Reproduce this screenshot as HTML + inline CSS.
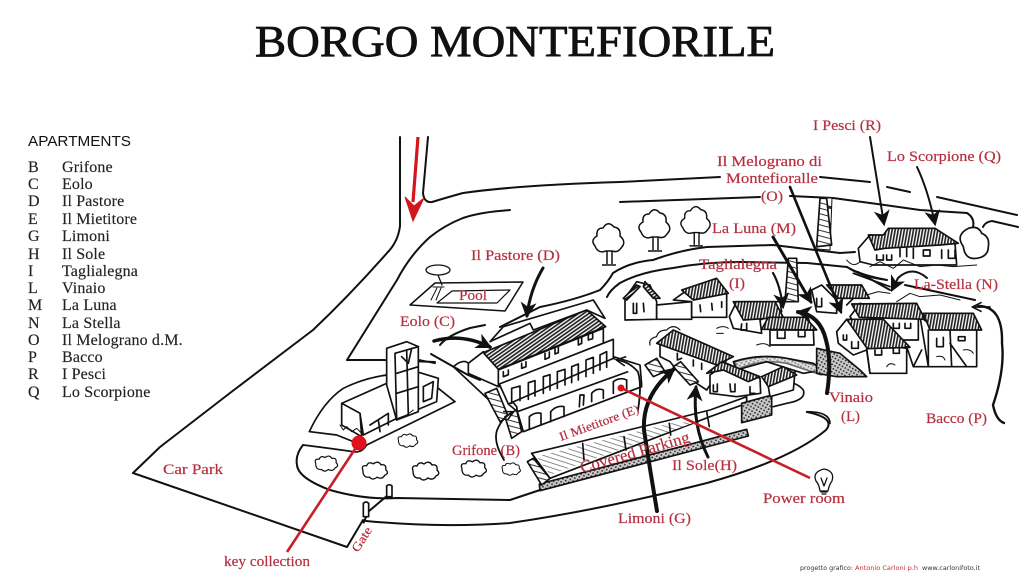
<!DOCTYPE html>
<html><head><meta charset="utf-8"><style>
html,body{margin:0;padding:0;background:#fff}
svg{display:block}
.r{font-family:"Liberation Serif",serif;font-size:15px;fill:#b5303f;stroke:#b5303f;stroke-width:.2}
.k{font-family:"Liberation Serif",serif;font-size:16px;letter-spacing:.15px;fill:#222;stroke:#222;stroke-width:.15}
.l{fill:none;stroke:#111;stroke-width:2;stroke-linecap:round;stroke-linejoin:round}
.z{fill:none;stroke:#111;stroke-width:5;stroke-linecap:round;stroke-linejoin:round}
.w{fill:#fff;stroke:#111;stroke-width:5;stroke-linejoin:round}
.h{stroke:#111;stroke-width:5;stroke-linejoin:round}
.t{fill:none;stroke:#111;stroke-width:3;stroke-linecap:round;stroke-linejoin:round}
.a{fill:none;stroke:#111;stroke-width:2.5;stroke-linecap:round}
.b{fill:none;stroke:#111;stroke-width:4;stroke-linecap:round}
</style></head><body>
<svg xmlns="http://www.w3.org/2000/svg" width="1024" height="576" viewBox="0 0 1024 576">
<defs>
<pattern id="p1" width="9" height="9" patternUnits="userSpaceOnUse" patternTransform="rotate(55)"><rect width="9" height="9" fill="#fff"/><rect width="5" height="9" fill="#222"/></pattern>
<pattern id="p2" width="9" height="9" patternUnits="userSpaceOnUse" patternTransform="rotate(10)"><rect width="9" height="9" fill="#fff"/><rect width="5" height="9" fill="#222"/></pattern>
<pattern id="p3" width="14" height="14" patternUnits="userSpaceOnUse" patternTransform="rotate(18)"><rect width="14" height="14" fill="#fff"/><rect width="14" height="2.5" fill="#777"/></pattern>
<pattern id="p4" width="16" height="16" patternUnits="userSpaceOnUse" patternTransform="rotate(15)"><rect width="16" height="16" fill="#fff"/><rect width="16" height="3" fill="#333"/></pattern>
<pattern id="p5" width="10" height="10" patternUnits="userSpaceOnUse" patternTransform="rotate(30)"><rect width="10" height="10" fill="#ccc"/><rect width="5" height="5" fill="#333"/></pattern>
<marker id="m" viewBox="0 0 14 14" refX="12" refY="7" markerWidth="16" markerHeight="16" markerUnits="userSpaceOnUse" orient="auto"><path d="M0 0L14 7L0 14L4 7Z" fill="#111"/></marker>
<marker id="s" viewBox="0 0 14 14" refX="12" refY="7" markerWidth="11" markerHeight="11" markerUnits="userSpaceOnUse" orient="auto"><path d="M1 1L13 7L1 13" fill="none" stroke="#111" stroke-width="2"/></marker>
<path id="bu" d="M2 10Q0 4 6 5Q8 0 13 3Q18-1 21 4Q27 3 26 9Q30 13 25 15Q22 20 17 17Q12 21 9 17Q2 18 2 10Z" fill="#fff" stroke="#111" stroke-width="1.4"/>
<g id="tr"><path d="M15 28L15 42M20 28L20 42M10 43L24 43" stroke="#111" stroke-width="1.5" fill="none"/><path d="M14 29Q6 32 3 24Q-2 18 5 14Q4 6 11 6Q16-2 22 5Q29 6 28 14Q35 20 29 26Q26 31 20 29Z" fill="#fff" stroke="#111" stroke-width="1.5"/></g>
</defs>

<rect width="1024" height="576" fill="#fff"/>
<text x="255" y="56" font-family="'Liberation Serif',serif" font-size="44" fill="#111" stroke="#111" stroke-width=".8" textLength="520" lengthAdjust="spacingAndGlyphs">BORGO MONTEFIORILE</text>

<text x="28" y="146" font-family="'Liberation Sans',sans-serif" font-size="14.5" fill="#111" textLength="103" lengthAdjust="spacingAndGlyphs">APARTMENTS</text>
<g class="k">
<text x="28" y="172">B</text><text x="62" y="172">Grifone</text>
<text x="28" y="189">C</text><text x="62" y="189">Eolo</text>
<text x="28" y="206">D</text><text x="62" y="206">Il Pastore</text>
<text x="28" y="224">E</text><text x="62" y="224">Il Mietitore</text>
<text x="28" y="241">G</text><text x="62" y="241">Limoni</text>
<text x="28" y="259">H</text><text x="62" y="259">Il Sole</text>
<text x="28" y="276">I</text><text x="62" y="276">Taglialegna</text>
<text x="28" y="293">L</text><text x="62" y="293">Vinaio</text>
<text x="28" y="310">M</text><text x="62" y="310">La Luna</text>
<text x="28" y="328">N</text><text x="62" y="328">La Stella</text>
<text x="28" y="345">O</text><text x="62" y="345">Il Melograno d.M.</text>
<text x="28" y="362">P</text><text x="62" y="362">Bacco</text>
<text x="28" y="379">R</text><text x="62" y="379">I Pesci</text>
<text x="28" y="397">Q</text><text x="62" y="397">Lo Scorpione</text>
</g>

<!-- roads -->
<path class="l" d="M400 137L400 226Q398 242 387 253Q350 295 313 330L230 393L160 447L133 473L347 547L363 520"/>
<path class="l" d="M366 521Q440 528 510 523Q600 510 707 483Q790 460 826 430Q836 418 807 412"/>
<path class="l" d="M303 445Q295 455 297 465Q298 478 330 490Q365 500 397 498L510 500L540 490"/>
<path class="l" d="M428 137L423 193Q424 203 432 202Q445 198 463 193Q520 185 620 182L720 177M820 177L870 182M887 187L910 192M937 197L1017 215"/>
<path class="l" d="M620 202L760 197M790 196L833 198L870 203L920 210L967 213Q975 218 973 227M983 227Q985 222 992 221L1018 227"/>
<path class="l" d="M510 210Q480 212 463 218Q445 225 430 237Q410 255 397 280L347 360L383 360L435 362"/>
<path class="l" d="M500 327L540 307Q575 300 600 290Q608 282 613 273Q630 262 653 260Q680 250 707 247L773 245L840 253L855 252"/>
<path class="l" d="M607 297Q610 290 620 283Q640 272 673 268Q705 262 740 262L807 263L847 267Q860 275 887 280"/>
<path class="l" d="M858 272L890 290M905 285L975 300"/>
<path class="l" d="M440 345Q448 335 470 328L485 325"/>
<path class="l" d="M431 354L468 375L480 380"/>

<!-- pool -->
<path d="M435 283L523 282L505 311L410 305Z" class="l" style="stroke-width:1.5"/>
<path d="M452 291L510 290L497 303L437 303Z" class="l" style="stroke-width:1.2"/>
<path d="M437 288L431 300M441 288L436 300M433 287L444 287" class="l" style="stroke-width:1"/>
<ellipse cx="438" cy="270" rx="12" ry="5" class="l" style="stroke-width:1.3"/>
<path d="M438 275L442 285" class="l" style="stroke-width:1.3"/>

<!-- reception + tower -->
<g transform="translate(130,130) scale(.33333)">
<path class="z" d="M538 905Q580 815 640 775Q700 745 770 735M860 688L915 700"/>
<path class="z" d="M540 905L620 915L670 935M710 945L975 815L925 775"/>
<path class="z" d="M520 945Q600 955 670 965Q695 970 710 945"/>
<path class="w" d="M860 725L925 745L920 815L860 840Z"/>
<path class="z" d="M880 770L910 755L905 805L880 815Z"/>
<path class="w" d="M635 820L770 760L800 790L800 865L700 915L690 850L635 820Z"/>
<path class="w" d="M635 820L690 850L695 920L635 885Z"/>
<path class="z" d="M720 885L775 850L775 885M745 870L750 905"/>
<path class="w" d="M770 655L830 635L865 650L865 845L800 870L770 765Z"/>
<path class="z" d="M795 670L865 650M795 670L800 870M830 660L835 855M800 730L865 710M800 790L865 770M815 680L835 700L845 655"/>
<path class="z" style="stroke-width:3" d="M630 885L640 900L650 890L665 905L680 895L700 915L720 905L740 895L770 880L790 870L830 855L850 840"/>
<path d="M700 1180L715 1145L780 1090" stroke="#111" stroke-width="6" fill="none"/>
<path class="w" d="M700 1120Q708 1112 716 1120L716 1160L700 1160Z"/>
<path class="w" d="M770 1068Q778 1060 786 1068L786 1100L770 1100Z"/>
</g>
<use href="#bu" transform="translate(314,455) scale(.85)"/>
<use href="#bu" transform="translate(361,461) scale(.95)"/>
<use href="#bu" transform="translate(411,461)"/>
<use href="#bu" transform="translate(460,459) scale(.95)"/>
<use href="#bu" transform="translate(501,462) scale(.7)"/>
<use href="#bu" transform="translate(397,433) scale(.75)"/>
<use href="#tr" transform="translate(592,222) scale(1)"/>
<use href="#tr" transform="translate(638,208)"/>
<use href="#tr" transform="translate(680,205) scale(.95)"/>
<path d="M822 198L832 198L830 250L817 249Z" fill="url(#p4)" stroke="#111" stroke-width="1"/>

<!-- main block: zoom 1 coordinates -->
<g transform="translate(440,230) scale(.33333)">
<path class="z" d="M40 410Q70 385 85 400L180 470L230 530L240 600L200 560Z"/>
<path class="w" d="M190 290L460 210L495 265L440 240L280 300L270 280L150 335Z"/>
<path class="w" d="M85 400L130 365L180 415L175 470L85 430Z"/>
<path class="h" fill="url(#p1)" d="M130 368L440 240L497 290L175 418Z"/>
<path class="w" d="M175 420L490 295L490 340L175 465Z"/>
<path class="w" d="M178 462L520 328L520 385L205 522Z"/>
<path class="w" d="M232 545L600 412L605 470L250 605Z"/>
<path class="z" d="M205 522L232 545M520 385L600 412"/>
<path class="z" d="M215 520L215 475L240 468L240 512M265 508L265 458L285 452L285 498M310 490L310 440L330 434L330 480M352 475L352 425L375 418L375 465M395 458L395 410L415 402L415 450M438 440L438 390L460 382L460 430M480 420L480 375L500 365L500 412"/>
<path class="z" d="M190 425L190 440L205 434L205 420M245 400L245 415L258 410L258 395M315 370L315 388L328 382L328 366M345 355L345 372L355 368L355 350M415 325L415 345L425 340L425 320M445 310L445 330L458 326L458 305"/>
<path class="z" d="M268 595L268 560Q285 545 303 550L303 585M332 575L332 545Q350 525 372 530L372 560M418 530L420 495L432 495L430 525M455 515L455 490Q470 472 490 480L490 505M520 490L520 455Q540 440 560 450L560 480"/>
<path class="h" fill="url(#p4)" d="M135 490L170 475L205 560L180 575Z"/>
<path class="h" fill="url(#p4)" d="M195 560L230 540L245 605L215 625Z"/>
<path class="h" fill="url(#p4)" d="M615 405L650 385L675 425L640 440Z"/>
<path class="w" d="M520 380L600 405L605 465"/>
<!-- covered parking -->
<path class="w" d="M275 670L690 570L810 540L920 500L920 520L810 560L330 745Z"/>
<path fill="url(#p3)" d="M290 680L690 580L770 575L330 735Z"/>
<path class="z" d="M275 670L330 745"/>
<path class="z" d="M428 640L432 690M552 620L558 660M688 580L692 615M800 545L808 590"/>
<path class="h" fill="url(#p5)" d="M298 762L920 598L925 618L300 782Z"/>
<path class="h" fill="url(#p4)" d="M262 695L280 685L330 745L305 765Z"/>
<path class="h" fill="url(#p5)" d="M905 520L995 495L995 555L905 578Z"/>
<path class="h" fill="#fff" d="M880 395Q960 370 1040 385L1120 400L1150 420L1090 430L980 395L890 420Z"/>
<path class="h" fill="url(#p5)" opacity=".6" d="M885 395Q960 372 1040 385L1145 410L1145 435L1040 400Q960 385 890 420Z"/>
<path class="z" d="M1000 460Q1060 445 1090 480Q1100 510 1040 520L1000 530"/>
<path class="z" d="M1100 545Q1170 545 1170 580"/>
<!-- house G -->
<path class="z" style="stroke-width:3.5" d="M630 345Q625 325 650 320Q655 300 680 300Q700 280 720 300"/>
<path class="w" d="M660 345L695 325L860 390L800 480L710 420L690 395L660 380Z"/>
<path class="h" fill="url(#p2)" d="M650 340L700 300L880 380L830 405Z"/>
<path class="z" d="M712 370L712 390L725 385M760 390L760 408M785 400L785 418"/>
<path class="h" fill="url(#p4)" d="M700 410L722 395L775 455L750 465Z"/>
<!-- house H -->
<path class="w" d="M810 435L860 400L960 445L962 490L890 500L810 490Z"/>
<path class="h" fill="url(#p2)" d="M800 430L845 395L960 440L925 455L850 420Z"/>
<path class="z" d="M820 465L820 485L832 485L832 462M870 462L872 485L885 485L885 462M930 470L930 490L945 490"/>
<!-- house small -->
<path class="w" d="M985 470L1065 425L1060 480L990 500Z"/>
<path class="h" fill="url(#p2)" d="M965 440L1030 410L1070 435L985 470Z"/>
<!-- group upper -->
<path class="w" d="M555 205L590 155L630 165L650 215L650 268L555 270Z"/>
<path class="h" fill="url(#p1)" d="M550 205L590 165L600 170L560 210ZM615 155L660 205L640 205L610 170Z"/>
<path class="z" d="M580 220L580 250L590 250L590 220M610 220L612 245"/>
<path class="w" d="M650 225L755 215L755 268L650 268Z"/>
<path class="w" d="M700 210L735 185L840 185L860 190L860 262L755 262L755 215Z"/>
<path class="h" fill="url(#p2)" d="M725 180L830 145L865 190L760 210Z"/>
<path class="z" d="M780 225L782 245M815 220L817 240M845 215L845 232"/>
<!-- Taglialegna -->
<path class="z" style="stroke-width:3" d="M830 295Q850 285 865 295M830 310L850 310M950 345Q975 335 990 350"/>
<path class="w" d="M868 260L890 215L1020 215L1025 245L960 270L965 310L880 295Z"/>
<path class="h" fill="url(#p2)" d="M880 215L1005 215L1030 262L910 270Z"/>
<path class="z" d="M905 282L903 300L920 300L920 280"/>
<!-- La Luna house -->
<path class="w" d="M990 300L1120 300L1122 345L990 345Z"/>
<path class="h" fill="url(#p2)" d="M985 262L1095 262L1130 300L965 298Z"/>
<path class="z" d="M1012 305L1012 325L1035 325L1035 305M1075 305L1075 320L1095 320L1095 305"/>
</g>

<!-- right-hand houses: zoom 2 coordinates -->
<g transform="translate(620,110) scale(.33333)">
<path class="h" fill="url(#p4)" d="M600 265L620 265L635 405L590 410Z"/>
<path class="h" fill="url(#p4)" d="M505 445L530 445L535 575L495 575Z"/>
<path class="h" fill="url(#p5)" d="M590 715L660 730L720 780L740 800L650 800L590 790Z"/>
<!-- O house -->
<path class="w" d="M575 540L605 525L650 570L650 610L590 605Z"/>
<path class="h" fill="url(#p2)" d="M620 525L725 525L748 565L655 565Z"/>
<path class="z" d="M590 565L590 590L605 590L605 565M650 565L700 565L680 585"/>
<!-- R house -->
<path class="w" d="M715 415L750 375L800 380L1005 400L1010 465L760 465L720 455Z"/>
<path class="h" fill="url(#p2)" d="M745 375L790 375L805 355L945 355L1015 400L960 405L795 415L765 420Z"/>
<path class="z" d="M770 435L770 450L790 450L790 435M800 435L800 450L815 450L815 435M840 415L840 440M860 415L860 440M880 415L880 445M910 420L930 420L930 438L910 438ZM965 420L965 445M985 420L985 445L1005 445L1005 420"/>
<path class="t" d="M680 450Q700 475 720 455M750 470L780 455L820 475L850 450L900 470L950 465L1000 470L1070 465"/>
<path class="z" d="M1045 355Q1075 345 1085 370Q1110 380 1105 410Q1105 440 1070 445Q1035 450 1030 410Q1005 375 1045 355Z"/>
<path class="z" d="M680 470Q720 500 800 510M700 490L810 530"/>
<path class="t" d="M740 555L775 545L810 550M830 575L870 550L900 560L960 555L1020 570"/>
<!-- N house -->
<path class="w" d="M920 635L1070 660L1070 770L925 770L900 620Z"/>
<path class="h" fill="url(#p2)" d="M910 610L1060 610L1085 660L930 660Z"/>
<path class="z" d="M950 685L950 710L970 710L970 682M1015 680L1035 680L1035 692L1015 692ZM990 660L995 770M925 660L925 770M990 700L1040 770"/>
<!-- M/N big -->
<path class="w" d="M690 620L720 580L895 620L895 690L740 690Z"/>
<path class="h" fill="url(#p2)" d="M695 582L890 580L915 628L718 622Z"/>
<path class="z" d="M820 640L820 655L838 655L838 640M855 640L855 655L872 655L872 640"/>
<path class="w" d="M650 665L680 628L745 700L860 715L860 790L750 790L740 720L700 735L655 700Z"/>
<path class="h" fill="url(#p2)" d="M680 628L790 628L870 712L742 716Z"/>
<path class="z" d="M670 675L670 690L680 690L680 675M695 695L695 715L715 715L715 695M765 720L765 735L785 735L785 720M820 715L820 730L838 730L838 715M740 715L750 790M860 710L880 770L925 770M905 720L880 770"/>
<path class="t" d="M800 770Q810 755 825 765M950 740Q970 735 975 750M1030 720Q1050 715 1060 730"/>
</g>

<!-- black arrows -->
<path class="a" style="stroke-width:3" marker-end="url(#m)" d="M543 268Q530 290 527 316"/>
<path class="b" style="stroke-width:3.5" marker-end="url(#m)" d="M434 341Q462 333 490 347"/>
<path class="a" style="stroke-width:1.8" marker-end="url(#s)" d="M504 460Q492 440 498 428Q503 417 513 412"/>
<path class="a" style="stroke-width:1.8" marker-end="url(#s)" d="M638 410Q642 385 638 372Q630 362 617 360"/>
<path class="b" marker-end="url(#m)" d="M657 511Q650 470 644 430Q642 395 674 369"/>
<path class="a" style="stroke-width:3" marker-end="url(#m)" d="M708 457Q692 425 696 387"/>
<path class="a" style="stroke-width:2.2" marker-end="url(#m)" d="M773 273Q780 285 783 307"/>
<path class="a" style="stroke-width:3" marker-end="url(#m)" d="M773 237L811 302"/>
<path class="a" style="stroke-width:2.6" marker-end="url(#m)" d="M790 187L841 312"/>
<path class="a" style="stroke-width:2" marker-end="url(#m)" d="M870 137L884 224"/>
<path class="a" style="stroke-width:2" marker-end="url(#m)" d="M917 167Q928 190 935 224"/>
<path class="a" style="stroke-width:2" marker-end="url(#m)" d="M927 278Q912 265 898 278L892 290"/>
<path class="b" marker-end="url(#m)" d="M827 393Q832 362 826 340Q820 315 798 312"/>
<path class="a" style="stroke-width:2.4" d="M1004 423Q996 420 993 405Q1005 370 1002 343Q1003 306 978 306"/>
<path class="a" style="stroke-width:1.8" marker-end="url(#s)" d="M990 307L973 307"/>

<!-- red items -->
<path d="M418 137L413 202" stroke="#d2161e" stroke-width="3.2" fill="none"/>
<path d="M405 197L413 221L424 198L414 206Z" fill="#d2161e" stroke="#d2161e"/>
<path d="M287 552L359 443" stroke="#c81e28" stroke-width="2.6" fill="none"/>
<circle cx="359" cy="443" r="7.5" fill="#e0101c"/>
<path d="M621 388L810 478" stroke="#c81e28" stroke-width="2.6" fill="none"/>
<circle cx="621" cy="388" r="3.5" fill="#e0101c"/>

<!-- bulb -->
<path class="l" style="stroke-width:1.3" d="M820 491Q819 484 816 481Q812 472 824 469Q835 471 832 481Q829 485 828 491Z"/>
<path class="l" style="stroke-width:1.3" d="M821 492L827 492M822 494L826 494M821 478L824 486L827 478"/>

<!-- red labels -->
<g class="r">
<text x="813" y="130" textLength="68" lengthAdjust="spacingAndGlyphs">I Pesci (R)</text>
<text x="887" y="161" textLength="114" lengthAdjust="spacingAndGlyphs">Lo Scorpione (Q)</text>
<text x="717" y="166" textLength="105" lengthAdjust="spacingAndGlyphs">Il Melograno di</text>
<text x="726" y="183" textLength="92" lengthAdjust="spacingAndGlyphs">Montefioralle</text>
<text x="761" y="201" textLength="22" lengthAdjust="spacingAndGlyphs">(O)</text>
<text x="712" y="233" textLength="84" lengthAdjust="spacingAndGlyphs">La Luna (M)</text>
<text x="471" y="260" textLength="89" lengthAdjust="spacingAndGlyphs">Il Pastore (D)</text>
<text x="459" y="300" textLength="28" lengthAdjust="spacingAndGlyphs">Pool</text>
<text x="699" y="269" textLength="78" lengthAdjust="spacingAndGlyphs">Taglialegna</text>
<text x="729" y="288" textLength="16" lengthAdjust="spacingAndGlyphs">(I)</text>
<text x="914" y="289" textLength="84" lengthAdjust="spacingAndGlyphs">La-Stella (N)</text>
<text x="400" y="326" textLength="55" lengthAdjust="spacingAndGlyphs">Eolo (C)</text>
<text x="829" y="402" textLength="44" lengthAdjust="spacingAndGlyphs">Vinaio</text>
<text x="841" y="421" textLength="19" lengthAdjust="spacingAndGlyphs">(L)</text>
<text x="926" y="423" textLength="61" lengthAdjust="spacingAndGlyphs">Bacco (P)</text>
<text x="452" y="455" textLength="68" lengthAdjust="spacingAndGlyphs">Grifone (B)</text>
<text x="672" y="470" textLength="65" lengthAdjust="spacingAndGlyphs">Il Sole(H)</text>
<text x="763" y="503" textLength="82" lengthAdjust="spacingAndGlyphs">Power room</text>
<text x="618" y="523" textLength="73" lengthAdjust="spacingAndGlyphs">Limoni (G)</text>
<text x="163" y="474" textLength="60" lengthAdjust="spacingAndGlyphs">Car Park</text>
<text x="224" y="566" textLength="86" lengthAdjust="spacingAndGlyphs">key collection</text>
<text transform="translate(561,441) rotate(-20)" style="font-size:12.5px" textLength="84" lengthAdjust="spacingAndGlyphs">Il Mietitore (E)</text>
<text transform="translate(582,473) rotate(-16)" style="font-size:16.5px" textLength="113" lengthAdjust="spacingAndGlyphs">Covered Parking</text>
<text transform="translate(358,553) rotate(-58)" style="font-size:12.5px" textLength="27" lengthAdjust="spacingAndGlyphs">Gate</text>
</g>

<text x="800" y="570" font-family="'DejaVu Sans',sans-serif" font-size="6.5" fill="#333" textLength="53" lengthAdjust="spacingAndGlyphs">progetto grafico:</text>
<text x="855" y="570" font-family="'DejaVu Sans',sans-serif" font-size="6.5" fill="#c4303c" textLength="63" lengthAdjust="spacingAndGlyphs">Antonio Carloni p.h</text>
<text x="922" y="570" font-family="'DejaVu Sans',sans-serif" font-size="6.5" fill="#333" textLength="58" lengthAdjust="spacingAndGlyphs">www.carlonifoto.it</text>
</svg>
</body></html>
